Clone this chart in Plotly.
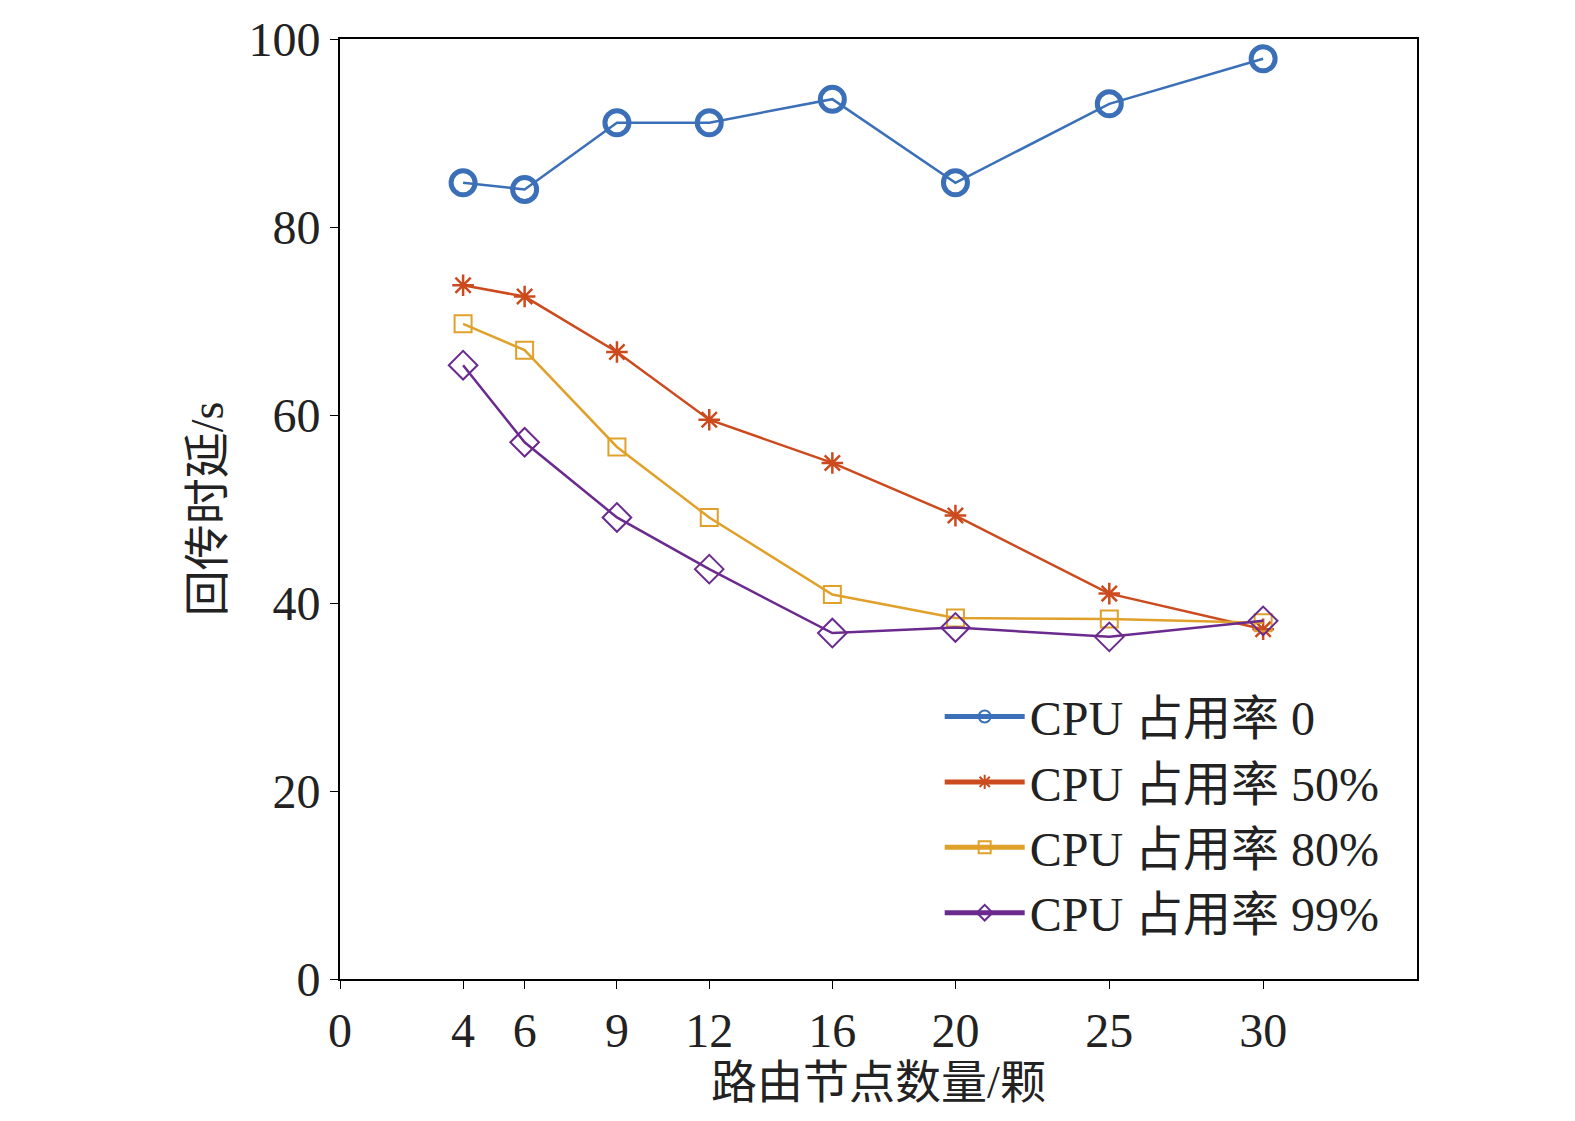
import plotly.graph_objects as go

# --- data ---
nodes = [4, 6, 9, 12, 16, 20, 25, 30]
cpu_0 = [84.7, 84.0, 91.1, 91.1, 93.6, 84.7, 93.1, 97.9]
cpu_50 = [73.8, 72.6, 66.7, 59.5, 54.9, 49.3, 41.0, 37.2]
cpu_80 = [69.7, 66.9, 56.6, 49.1, 40.9, 38.4, 38.3, 37.9]
cpu_99 = [65.3, 57.1, 49.1, 43.6, 36.8, 37.4, 36.4, 38.1]
x_ticks = [0, 4, 6, 9, 12, 16, 20, 25, 30]
y_ticks = [0, 20, 40, 60, 80, 100]

FONT = "'Liberation Serif', 'Noto Sans CJK SC'"

series = [
    ("CPU 占用率 0", cpu_0, "#3b70b8", "circle-open", 24, 5),
    ("CPU 占用率 50%", cpu_50, "#cc4b1e", "asterisk-open", 18, 2.5),
    ("CPU 占用率 80%", cpu_80, "#e0a12a", "square-open", 17, 2),
    ("CPU 占用率 99%", cpu_99, "#6a2a8e", "diamond-open", 22, 2),
]

fig = go.Figure()
for name, vals, color, sym, size, lw in series:
    fig.add_trace(go.Scatter(
        x=nodes, y=vals, name=name, mode="lines+markers",
        line=dict(color=color, width=2.5),
        marker=dict(symbol=sym, size=size, color=color, line=dict(color=color, width=lw)),
    ))

axis_common = dict(
    showgrid=False, zeroline=False, showline=True, linecolor="black", linewidth=2,
    mirror=True, ticks="outside", ticklen=8, tickcolor="black", automargin=False,
    tickfont=dict(family=FONT, size=48, color="#222"),
)

fig.update_layout(
    width=1575, height=1121,
    plot_bgcolor="white", paper_bgcolor="white",
    margin=dict(l=332, r=166, t=31, b=150),
    font=dict(family=FONT, color="#222"),
    xaxis=dict(range=[0, 35], tickvals=x_ticks,
               title=dict(text="路由节点数量/颗", font=dict(size=46), standoff=5),
               **axis_common),
    yaxis=dict(range=[0, 100], tickvals=y_ticks,
               title=dict(text="回传时延/s", font=dict(size=46), standoff=10),
               **axis_common),
    legend=dict(x=0.97, y=0.03, xanchor="right", yanchor="bottom",
                bgcolor="rgba(0,0,0,0)", font=dict(size=48, family=FONT),
                itemwidth=80, tracegroupgap=0, itemsizing="constant"),
)

fig.write_html("out.html")
